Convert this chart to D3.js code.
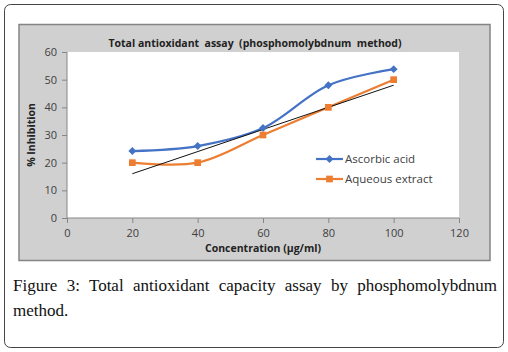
<!DOCTYPE html>
<html>
<head>
<meta charset="utf-8">
<style>
  body { margin: 0; background: #fff; }
  svg { display: block; }
  .tick text { font-family: "Open Sans", "Liberation Sans", sans-serif; font-size: 11px; fill: #404040; }
</style>
</head>
<body>
<svg width="508" height="352"></svg>
<script src="https://cdn.jsdelivr.net/npm/d3@7"></script>
<script>
// data
var concentrations = [20, 40, 60, 80, 100];
var ascorbicAcid = [24.2, 26, 32.5, 48, 53.8];
var aqueousExtract = [20, 20, 30, 40, 50];
var trendX = [20, 100];
var trendY = [16, 48];
var xTicks = [0, 20, 40, 60, 80, 100, 120];
var yTicks = [0, 10, 20, 30, 40, 50, 60];
var seriesNames = ["Ascorbic acid", "Aqueous extract"];
var seriesColors = ["#4472C4", "#ED7D31"];

var svg = d3.select("svg");

// outer frame of the figure
svg.append("rect")
  .attr("x", 4.5).attr("y", 4.5)
  .attr("width", 499).attr("height", 343)
  .attr("rx", 6)
  .attr("fill", "#fff")
  .attr("stroke", "#444")
  .attr("stroke-width", 1);

// gray chart panel
svg.append("rect")
  .attr("x", 19).attr("y", 24.5)
  .attr("width", 471).attr("height", 236)
  .attr("fill", "#d0d0d0")
  .attr("stroke", "#858585")
  .attr("stroke-width", 1.5);

var x = d3.scaleLinear().domain([0, 120]).range([67, 459]);
var y = d3.scaleLinear().domain([0, 60]).range([218, 52]);

// plot area
svg.append("rect")
  .attr("x", x(0)).attr("y", y(60))
  .attr("width", x(120) - x(0)).attr("height", y(0) - y(60))
  .attr("fill", "#fff");

var xAxis = svg.append("g")
  .attr("transform", "translate(0," + y(0) + ")")
  .call(d3.axisBottom(x).tickValues(xTicks).tickSize(5).tickPadding(6));
var yAxis = svg.append("g")
  .attr("transform", "translate(" + x(0) + ",0)")
  .call(d3.axisLeft(y).tickValues(yTicks).tickSize(5).tickPadding(5));

[xAxis, yAxis].forEach(function(ax) {
  ax.select(".domain").attr("stroke", "#868686");
  ax.selectAll(".tick line").attr("stroke", "#868686");
});
xAxis.select(".domain").attr("d", "M" + x(0) + ",0H" + x(120));
yAxis.select(".domain").attr("d", "M0," + y(0) + "V" + y(60));

// titles
svg.append("text")
  .attr("x", 255).attr("y", 47)
  .attr("text-anchor", "middle")
  .attr("font-family", "'Open Sans', 'Liberation Sans', sans-serif")
  .attr("font-size", 10.5).attr("font-weight", "bold")
  .attr("fill", "#222")
  .attr("xml:space", "preserve")
  .text("Total antioxidant  assay  (phosphomolybdnum  method)");

svg.append("text")
  .attr("x", (x(0) + x(120)) / 2).attr("y", 252)
  .attr("text-anchor", "middle")
  .attr("font-family", "'Open Sans', 'Liberation Sans', sans-serif")
  .attr("font-size", 10.5).attr("font-weight", "bold")
  .attr("fill", "#222")
  .text("Concentration (\u00b5g/ml)");

svg.append("text")
  .attr("transform", "translate(35," + ((y(0) + y(60)) / 2) + ") rotate(-90)")
  .attr("text-anchor", "middle")
  .attr("font-family", "'Open Sans', 'Liberation Sans', sans-serif")
  .attr("font-size", 10.5).attr("font-weight", "bold")
  .attr("fill", "#222")
  .text("% Inhibition");

var line = d3.line()
  .x(function(d) { return x(d[0]); })
  .y(function(d) { return y(d[1]); });

var smooth = d3.line()
  .x(function(d) { return x(d[0]); })
  .y(function(d) { return y(d[1]); })
  .curve(d3.curveCatmullRom.alpha(0.5));

var seriesData = [ascorbicAcid, aqueousExtract].map(function(vals) {
  return concentrations.map(function(c, i) { return [c, vals[i]]; });
});

// orange first, blue on top, trendline on top
svg.append("path")
  .datum(seriesData[1])
  .attr("d", smooth)
  .attr("fill", "none")
  .attr("stroke", seriesColors[1])
  .attr("stroke-width", 2.2);

svg.append("path")
  .datum(seriesData[0])
  .attr("d", smooth)
  .attr("fill", "none")
  .attr("stroke", seriesColors[0])
  .attr("stroke-width", 2.2);

svg.append("path")
  .datum(trendX.map(function(v, i) { return [v, trendY[i]]; }))
  .attr("d", line)
  .attr("fill", "none")
  .attr("stroke", "#111")
  .attr("stroke-width", 1);

var diamond = d3.symbol().type(d3.symbolDiamond2).size(40);
var square = d3.symbol().type(d3.symbolSquare).size(45);

svg.append("g").selectAll("path")
  .data(seriesData[0]).enter().append("path")
  .attr("transform", function(d) { return "translate(" + x(d[0]) + "," + y(d[1]) + ")"; })
  .attr("d", diamond)
  .attr("fill", seriesColors[0]);

svg.append("g").selectAll("path")
  .data(seriesData[1]).enter().append("path")
  .attr("transform", function(d) { return "translate(" + x(d[0]) + "," + y(d[1]) + ")"; })
  .attr("d", square)
  .attr("fill", seriesColors[1]);

// legend
var legend = svg.append("g").selectAll("g")
  .data(seriesNames).enter().append("g")
  .attr("transform", function(d, i) { return "translate(316," + (159 + i * 20) + ")"; });

legend.append("line")
  .attr("x1", 0).attr("x2", 27)
  .attr("stroke", function(d, i) { return seriesColors[i]; })
  .attr("stroke-width", 2.2);

legend.append("path")
  .attr("transform", "translate(13.5,0)")
  .attr("d", function(d, i) { return i === 0 ? diamond() : square(); })
  .attr("fill", function(d, i) { return seriesColors[i]; });

legend.append("text")
  .attr("x", 29).attr("y", 4)
  .attr("font-family", "'Open Sans', 'Liberation Sans', sans-serif")
  .attr("font-size", 11.5)
  .attr("fill", "#404040")
  .text(function(d) { return d; });

// caption below the chart, first line justified with word spacing
var captionFont = "'Liberation Serif', 'DejaVu Serif', serif";
var captionLine1 = "Figure 3: Total antioxidant capacity assay by phosphomolybdnum";
var line1 = svg.append("text")
  .attr("x", 13).attr("y", 291)
  .attr("font-family", captionFont)
  .attr("font-size", 17)
  .attr("fill", "#111")
  .text(captionLine1);
var gaps = captionLine1.split(" ").length - 1;
var extra = (484 - line1.node().getComputedTextLength()) / gaps;
line1.attr("word-spacing", Math.max(0, extra));

svg.append("text")
  .attr("x", 13).attr("y", 316)
  .attr("font-family", captionFont)
  .attr("font-size", 17)
  .attr("fill", "#111")
  .text("method.");
</script>
</body>
</html>
